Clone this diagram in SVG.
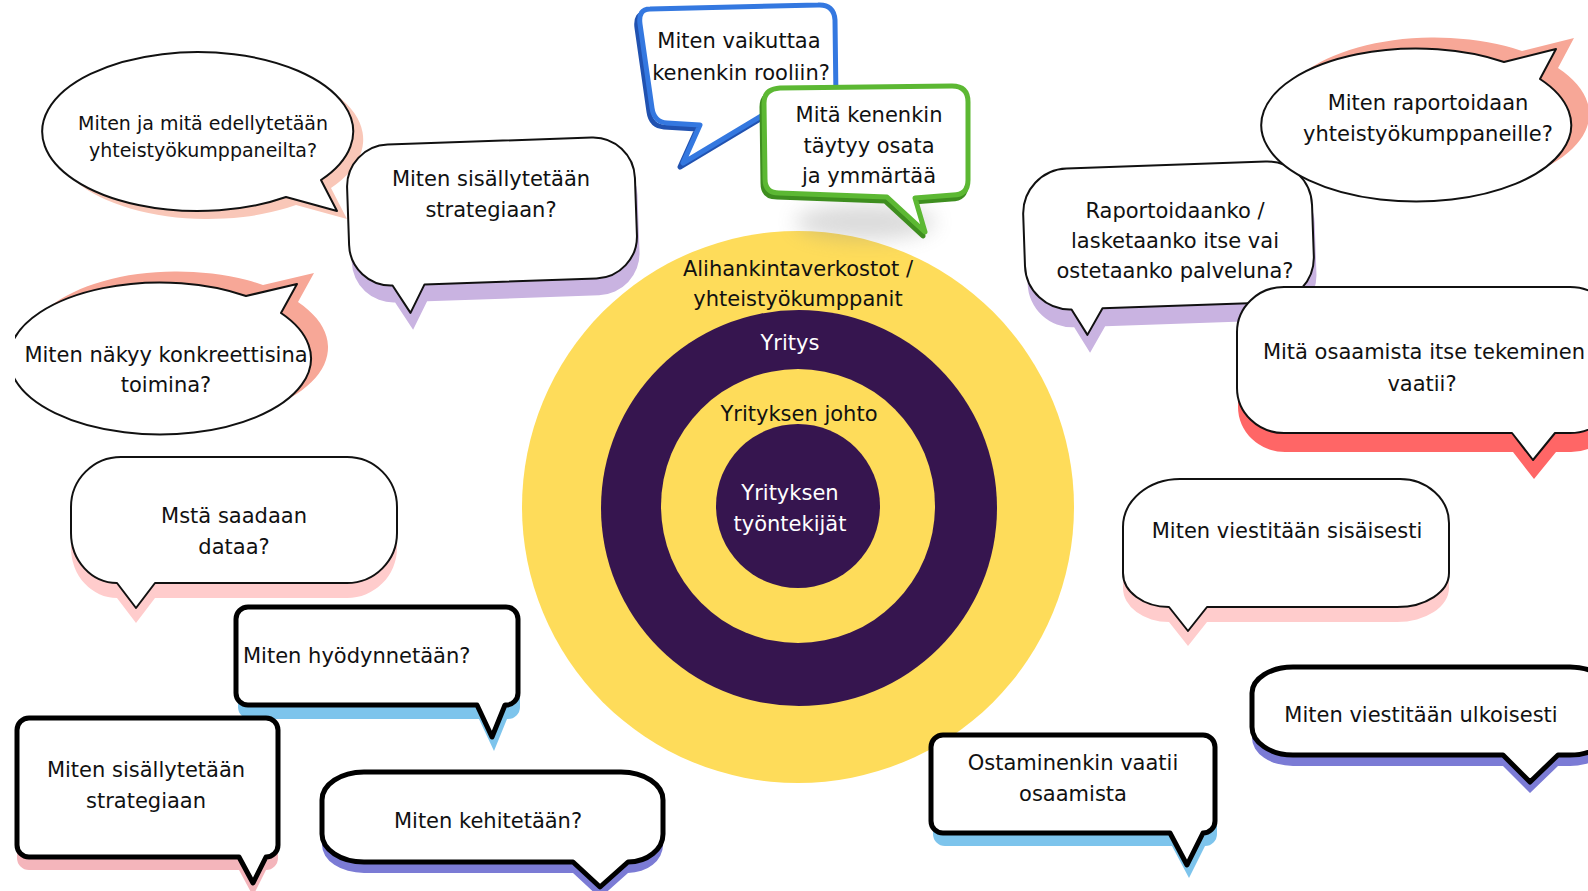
<svg xmlns="http://www.w3.org/2000/svg" width="1588" height="891" viewBox="0 0 1588 891">
<style>
.t{font-family:"DejaVu Sans","Liberation Sans",sans-serif;font-size:21px;fill:#111;text-anchor:middle}
.s19{font-size:19px}
.w{fill:#fff}
.thin{fill:#fff;stroke:#111;stroke-width:2;stroke-linejoin:round}
.thick{fill:#fff;stroke:#000;stroke-width:5;stroke-linejoin:round}
.yel{fill:#FEDC5A}
.pur{fill:#36154F}
</style>
<defs>
<clipPath id="clipE"><rect x="15" y="0" width="500" height="891"/></clipPath>
<filter id="blur" x="-50%" y="-50%" width="200%" height="200%"><feGaussianBlur stdDeviation="10"/></filter>
</defs>
<rect width="1588" height="891" fill="#fff"/>

<g id="rings">
<circle class="yel" cx="798" cy="507" r="276"/>
<circle class="pur" cx="799" cy="508" r="198"/>
<circle class="yel" cx="798" cy="506" r="137"/>
<circle class="pur" cx="798" cy="506" r="82"/>
<text class="t" x="798" y="276">Alihankintaverkostot /</text>
<text class="t" x="798" y="306">yhteistyökumppanit</text>
<text class="t w" x="790" y="350">Yritys</text>
<text class="t" x="799" y="421">Yrityksen johto</text>
<text class="t w" x="790" y="500">Yrityksen</text>
<text class="t w" x="790" y="531">työntekijät</text>
</g>

<g id="connectors"></g>

<g id="bubble-edellytetaan">
<path fill="#F9C7B8" transform="translate(10,8)" d="M 321,180 A 155.5 79.5 0 1 0 286,197 L 337,211 Z"/>
<path class="thin" d="M 321,180 A 155.5 79.5 0 1 0 286,197 L 337,211 Z"/>
<text class="t s19" x="203" y="130">Miten ja mitä edellytetään</text>
<text class="t s19" x="203" y="157">yhteistyökumppaneilta?</text>
</g>

<g id="bubble-strategiaan1">
<g transform="rotate(-2 492 211)">
<path fill="#C9B3E1" transform="translate(2,17)" d="M 390,141 H 594 A 42 42 0 0 1 636,183 V 240 A 42 42 0 0 1 594,282 H 422 L 407,310 L 390,282 A 42 42 0 0 1 348,240 V 183 A 42 42 0 0 1 390,141 Z"/>
<path class="thin" d="M 390,141 H 594 A 42 42 0 0 1 636,183 V 240 A 42 42 0 0 1 594,282 H 422 L 407,310 L 390,282 A 42 42 0 0 1 348,240 V 183 A 42 42 0 0 1 390,141 Z"/>
</g>
<text class="t" x="491" y="186">Miten sisällytetään</text>
<text class="t" x="491" y="217">strategiaan?</text>
</g>

<g id="bubble-rooliin">
<path fill="none" stroke="#2152B0" stroke-width="5" stroke-linejoin="round" transform="translate(-3,4)" d="M 650,9 L 818,5 Q 834,4 835,20 L 836,100 Q 836,112 822,112 L 763,115 L 683,163 L 700,125 L 667,123 Q 654,122 652,108 L 640,24 Q 638,9 650,9 Z"/>
<path fill="#fff" stroke="#3478E0" stroke-width="5" stroke-linejoin="round" d="M 650,9 L 818,5 Q 834,4 835,20 L 836,100 Q 836,112 822,112 L 763,115 L 683,163 L 700,125 L 667,123 Q 654,122 652,108 L 640,24 Q 638,9 650,9 Z"/>
<text class="t" x="739" y="48">Miten vaikuttaa</text>
<text class="t" x="741" y="80">kenenkin rooliin?</text>
</g>

<g id="bubble-osata">
<ellipse cx="865" cy="222" rx="70" ry="18" fill="#888" opacity="0.3" filter="url(#blur)"/>
<path fill="none" stroke="#3E8E1F" stroke-width="5" stroke-linejoin="round" transform="translate(-2,4)" d="M 780,88 L 952,86 Q 968,86 968,102 L 968,180 Q 968,195 953,195 L 915,198 L 925,232 L 887,197 L 779,193 Q 765,193 765,179 L 764,103 Q 764,89 780,88 Z"/>
<path fill="#fff" stroke="#5CB833" stroke-width="5" stroke-linejoin="round" d="M 780,88 L 952,86 Q 968,86 968,102 L 968,180 Q 968,195 953,195 L 915,198 L 925,232 L 887,197 L 779,193 Q 765,193 765,179 L 764,103 Q 764,89 780,88 Z"/>
<text class="t" x="869" y="122">Mitä kenenkin</text>
<text class="t" x="869" y="153">täytyy osata</text>
<text class="t" x="869" y="183">ja ymmärtää</text>
</g>

<g id="bubble-konkreettisina">
<g clip-path="url(#clipE)">
<path fill="#F7A797" transform="translate(17,-11)" d="M 246,296 L 297,284 L 281,313 A 151 76 0 1 1 246,296 Z"/>
<path class="thin" d="M 246,296 L 297,284 L 281,313 A 151 76 0 1 1 246,296 Z"/>
</g>
<text class="t" x="166" y="362">Miten näkyy konkreettisina</text>
<text class="t" x="166" y="392">toimina?</text>
</g>

<g id="bubble-dataa">
<path fill="#FFCCCC" transform="translate(0,15)" d="M 121,457 H 347 A 50 50 0 0 1 397,507 V 533 A 50 50 0 0 1 347,583 H 155 L 136,608 L 117,583 A 46 50 0 0 1 71,533 V 507 A 50 50 0 0 1 121,457 Z"/>
<path class="thin" d="M 121,457 H 347 A 50 50 0 0 1 397,507 V 533 A 50 50 0 0 1 347,583 H 155 L 136,608 L 117,583 A 46 50 0 0 1 71,533 V 507 A 50 50 0 0 1 121,457 Z"/>
<text class="t" x="234" y="523">Mstä saadaan</text>
<text class="t" x="234" y="554">dataa?</text>
</g>

<g id="bubble-hyodynnetaan">
<path fill="#7DC4EC" transform="translate(2,14)" d="M 248,607 H 506 A 12 12 0 0 1 518,619 V 693 A 12 12 0 0 1 506,705 H 505 L 492,737 L 477,705 H 248 A 12 12 0 0 1 236,693 V 619 A 12 12 0 0 1 248,607 Z"/>
<path class="thick" d="M 248,607 H 506 A 12 12 0 0 1 518,619 V 693 A 12 12 0 0 1 506,705 H 505 L 492,737 L 477,705 H 248 A 12 12 0 0 1 236,693 V 619 A 12 12 0 0 1 248,607 Z"/>
<text class="t" x="243" y="663" style="text-anchor:start">Miten hyödynnetään?</text>
</g>

<g id="bubble-strategiaan2">
<path fill="#F4B5BB" transform="translate(0,13)" d="M 29,718 H 266 A 12 12 0 0 1 278,730 V 845 A 12 12 0 0 1 266,857 L 253,883 L 239,857 H 29 A 12 12 0 0 1 17,845 V 730 A 12 12 0 0 1 29,718 Z"/>
<path class="thick" d="M 29,718 H 266 A 12 12 0 0 1 278,730 V 845 A 12 12 0 0 1 266,857 L 253,883 L 239,857 H 29 A 12 12 0 0 1 17,845 V 730 A 12 12 0 0 1 29,718 Z"/>
<text class="t" x="146" y="777">Miten sisällytetään</text>
<text class="t" x="146" y="808">strategiaan</text>
</g>

<g id="bubble-kehitetaan">
<path fill="#7B7BD5" transform="translate(0,11)" d="M 364,772 H 621 A 42 28 0 0 1 663,800 V 834 A 35 28 0 0 1 628,862 L 600,887 L 573,862 H 364 A 42 28 0 0 1 322,834 V 800 A 42 28 0 0 1 364,772 Z"/>
<path class="thick" d="M 364,772 H 621 A 42 28 0 0 1 663,800 V 834 A 35 28 0 0 1 628,862 L 600,887 L 573,862 H 364 A 42 28 0 0 1 322,834 V 800 A 42 28 0 0 1 364,772 Z"/>
<text class="t" x="488" y="828">Miten kehitetään?</text>
</g>

<g id="bubble-raportoidaanko">
<g transform="rotate(-2 1168 235)">
<path fill="#C9B3E1" transform="translate(2,18)" d="M 1069,165 H 1268 A 45 45 0 0 1 1313,210 V 261 A 45 45 0 0 1 1268,306 H 1100 L 1084,332 L 1069,306 A 45 45 0 0 1 1024,261 V 210 A 45 45 0 0 1 1069,165 Z"/>
<path class="thin" d="M 1069,165 H 1268 A 45 45 0 0 1 1313,210 V 261 A 45 45 0 0 1 1268,306 H 1100 L 1084,332 L 1069,306 A 45 45 0 0 1 1024,261 V 210 A 45 45 0 0 1 1069,165 Z"/>
</g>
<text class="t" x="1175" y="218">Raportoidaanko /</text>
<text class="t" x="1175" y="248">lasketaanko itse vai</text>
<text class="t" x="1175" y="278">ostetaanko palveluna?</text>
</g>

<g id="bubble-raportoidaan">
<path fill="#F7A797" transform="translate(18,-11)" d="M 1504,62 L 1556,49 L 1540,79 A 155 76.5 0 1 1 1504,62 Z"/>
<path class="thin" d="M 1504,62 L 1556,49 L 1540,79 A 155 76.5 0 1 1 1504,62 Z"/>
<text class="t" x="1428" y="110">Miten raportoidaan</text>
<text class="t" x="1428" y="141">yhteistyökumppaneille?</text>
</g>

<g id="bubble-tekeminen">
<path fill="#FF6666" transform="translate(1,19)" d="M 1284,287 H 1570 A 47 45 0 0 1 1617,332 V 388 A 47 45 0 0 1 1570,433 H 1555 L 1533,460 L 1512,433 H 1284 A 47 45 0 0 1 1237,388 V 332 A 47 45 0 0 1 1284,287 Z"/>
<path class="thin" d="M 1284,287 H 1570 A 47 45 0 0 1 1617,332 V 388 A 47 45 0 0 1 1570,433 H 1555 L 1533,460 L 1512,433 H 1284 A 47 45 0 0 1 1237,388 V 332 A 47 45 0 0 1 1284,287 Z"/>
<text class="t" x="1424" y="359">Mitä osaamista itse tekeminen</text>
<text class="t" x="1422" y="391">vaatii?</text>
</g>

<g id="bubble-sisaisesti">
<path fill="#FFCCCC" transform="translate(0,15)" d="M 1180,479 H 1400 A 49 44 0 0 1 1449,523 V 573 A 52 34 0 0 1 1397,607 H 1207 L 1188,631 L 1169,607 A 46 34 0 0 1 1123,573 V 527 A 57 48 0 0 1 1180,479 Z"/>
<path class="thin" d="M 1180,479 H 1400 A 49 44 0 0 1 1449,523 V 573 A 52 34 0 0 1 1397,607 H 1207 L 1188,631 L 1169,607 A 46 34 0 0 1 1123,573 V 527 A 57 48 0 0 1 1180,479 Z"/>
<text class="t" x="1287" y="538">Miten viestitään sisäisesti</text>
</g>

<g id="bubble-ulkoisesti">
<path fill="#7B7BD5" transform="translate(0,11)" d="M 1293,667 H 1570 A 40 26 0 0 1 1610,693 V 729 A 40 26 0 0 1 1570,755 H 1558 L 1530,782 L 1503,755 H 1293 A 41 28 0 0 1 1252,727 V 693 A 41 26 0 0 1 1293,667 Z"/>
<path class="thick" d="M 1293,667 H 1570 A 40 26 0 0 1 1610,693 V 729 A 40 26 0 0 1 1570,755 H 1558 L 1530,782 L 1503,755 H 1293 A 41 28 0 0 1 1252,727 V 693 A 41 26 0 0 1 1293,667 Z"/>
<text class="t" x="1421" y="722">Miten viestitään ulkoisesti</text>
</g>

<g id="bubble-ostaminen">
<path fill="#7DC4EC" transform="translate(2,13)" d="M 943,735 H 1203 A 12 12 0 0 1 1215,747 V 821 A 12 12 0 0 1 1203,833 L 1187,865 L 1170,833 H 943 A 12 12 0 0 1 931,821 V 747 A 12 12 0 0 1 943,735 Z"/>
<path class="thick" d="M 943,735 H 1203 A 12 12 0 0 1 1215,747 V 821 A 12 12 0 0 1 1203,833 L 1187,865 L 1170,833 H 943 A 12 12 0 0 1 931,821 V 747 A 12 12 0 0 1 943,735 Z"/>
<text class="t" x="1073" y="770">Ostaminenkin vaatii</text>
<text class="t" x="1073" y="801">osaamista</text>
</g>
</svg>
